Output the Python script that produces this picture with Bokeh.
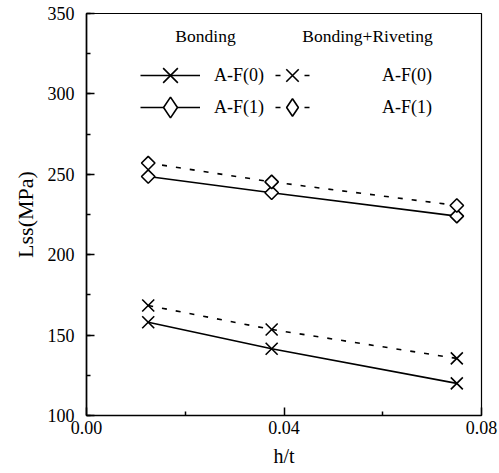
from bokeh.plotting import figure
from bokeh.models import (Range1d, FixedTicker, SingleIntervalTicker, PrintfTickFormatter,
                          Legend, LegendItem, Label, ColumnDataSource)
from bokeh.embed import file_html
from bokeh.resources import INLINE
import numpy as np

# ---- data ----
h_t = [0.0125, 0.0375, 0.075]
bond_af0 = [158.0, 141.5, 120.0]
bond_af1 = [248.6, 238.5, 224.0]
rivet_af0 = [168.4, 153.5, 135.5]
rivet_af1 = [257.0, 245.3, 230.6]
x_ticks = [0.0, 0.04, 0.08]
x_minor = [0.02, 0.06]
series_labels = ["A-F(0)", "A-F(1)"]
group_titles = ["Bonding", "Bonding+Riveting"]

FONT = "Liberation Serif"

p = figure(width=499, height=473, output_backend="svg", toolbar_location=None,
           x_range=Range1d(0, 0.08), y_range=Range1d(100, 350),
           min_border_left=86, min_border_right=18, min_border_top=13, min_border_bottom=58)
p.grid.visible = False
p.outline_line_color = "black"
p.outline_line_width = 1.2
p.background_fill_color = "white"
p.border_fill_color = "white"

p.xaxis.ticker = FixedTicker(ticks=x_ticks, minor_ticks=x_minor)
p.xaxis.formatter = PrintfTickFormatter(format="%.2f")
p.yaxis.ticker = SingleIntervalTicker(interval=50, num_minor_ticks=2)
p.yaxis.formatter = PrintfTickFormatter(format="%d")
for ax in (p.xaxis, p.yaxis):
    ax.major_tick_in = 8
    ax.major_tick_out = 0
    ax.minor_tick_in = 4
    ax.minor_tick_out = 0
    ax.axis_line_color = "black"
    ax.axis_line_width = 1.6
    ax.major_tick_line_color = "black"
    ax.major_tick_line_width = 1.5
    ax.minor_tick_line_color = "black"
    ax.minor_tick_line_width = 1.5
    ax.major_label_text_font = FONT
    ax.major_label_text_font_size = "18px"
    ax.major_label_text_color = "black"
    ax.axis_label_text_font = FONT
    ax.axis_label_text_font_style = "normal"
    ax.axis_label_text_color = "black"
p.xaxis.axis_label = "h/t"
p.xaxis.axis_label_text_font_size = "20px"
p.xaxis.major_label_standoff = 5
p.xaxis.axis_label_standoff = 8
p.yaxis.axis_label = "Lss(MPa)"
p.yaxis.axis_label_text_font_size = "22px"
p.yaxis.major_label_standoff = 12
p.yaxis.axis_label_standoff = 7

src = ColumnDataSource(dict(x=h_t, b0=bond_af0, b1=bond_af1, r0=rivet_af0, r1=rivet_af1))

LW = 1.6
DASH = "5 9"
p.line("x", "b0", source=src, line_color="black", line_width=LW)
p.scatter("x", "b0", source=src, marker="x", size=17, line_color="black", line_width=1.6)
p.line("x", "b1", source=src, line_color="black", line_width=LW)
p.scatter("x", "b1", source=src, marker="square", angle=np.pi / 4, size=9.5,
          line_color="black", fill_color="white", line_width=1.6)
p.line("x", "r0", source=src, line_color="black", line_width=LW, line_dash=DASH)
p.scatter("x", "r0", source=src, marker="x", size=17, line_color="black", line_width=1.6)
p.line("x", "r1", source=src, line_color="black", line_width=LW, line_dash=DASH)
p.scatter("x", "r1", source=src, marker="square", angle=np.pi / 4, size=9.5,
          line_color="black", fill_color="white", line_width=1.6)

# legend-only renderers (hidden in the plot; Bokeh's legend ignores marker angle)
def key(col, marker, dash):
    ln = p.line("x", col, source=src, line_color="black", line_width=1.3, line_dash=dash, visible=False)
    mk = p.scatter("x", col, source=src, marker=marker, line_color="black", fill_color="white",
                   line_width=1.6, visible=False)
    return [ln, mk]

LEG_DASH = "0 5 5 24 5 60"
keys = [
    (key("b0", "x", "solid"), series_labels[0], (54, 314), 60, 14),
    (key("b1", "diamond", "solid"), series_labels[1], (54, 282), 60, 14),
    (key("r0", "x", LEG_DASH), series_labels[0], (184, 314), 44, 68),
    (key("r1", "diamond", LEG_DASH), series_labels[1], (184, 282), 44, 68),
]
for rends, lab, loc, gw, so in keys:
    lg = Legend(items=[LegendItem(label=lab, renderers=rends)], location=loc,
                glyph_width=gw, glyph_height=52, spacing=0, padding=0, margin=0,
                label_standoff=so, border_line_color=None, background_fill_alpha=0,
                label_text_font=FONT, label_text_font_size="18px", label_text_color="black")
    p.add_layout(lg, "center")

p.add_layout(Label(x=0.0241, y=336, text=group_titles[0], text_align="center", text_baseline="middle",
                   text_font=FONT, text_font_size="17.5px", text_color="black"))
p.add_layout(Label(x=0.0569, y=336, text=group_titles[1], text_align="center",
                   text_baseline="middle", text_font=FONT, text_font_size="17.5px", text_color="black"))

open("out.html", "w").write(file_html(p, INLINE))
